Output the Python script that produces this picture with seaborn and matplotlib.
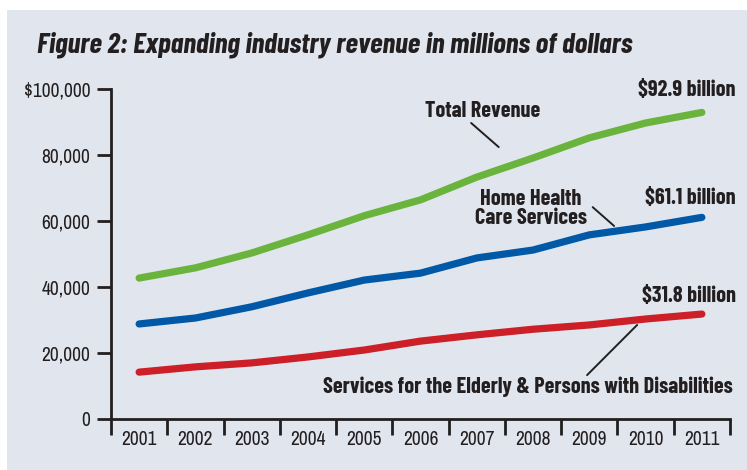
import matplotlib
matplotlib.use("Agg")
import matplotlib.pyplot as plt
import matplotlib.patches as patches
import pandas as pd
import seaborn as sns

years = [2001, 2002, 2003, 2004, 2005, 2006, 2007, 2008, 2009, 2010, 2011]
total_revenue = [42.7, 45.8, 50.3, 55.8, 61.6, 66.4, 73.3, 79.1, 85.2, 89.7, 92.9]
home_health = [28.8, 30.6, 34.0, 38.2, 42.1, 44.2, 48.8, 51.2, 55.8, 58.2, 61.1]
elderly = [14.2, 15.8, 17.0, 18.8, 20.9, 23.6, 25.5, 27.2, 28.5, 30.3, 31.8]

series_names = ["Total Revenue", "Home Health Care Services",
                "Services for the Elderly & Persons with Disabilities"]
colors = ["#6ab43e", "#0058a6", "#cd1f28"]

df = pd.DataFrame({
    "year": years * 3,
    "revenue": [v * 1000 for v in total_revenue + home_health + elderly],
    "series": [s for s in series_names for _ in years],
})

bg = "#e1e6ee"
ink = "#231f20"

sns.set_style("ticks")
plt.rcParams["font.family"] = ["Archivo Narrow", "Barlow Condensed", "DejaVu Sans"]
bold_family = ["Barlow Condensed", "DejaVu Sans"]

fig = plt.figure(figsize=(7.47, 4.70), dpi=100, facecolor="white")
fig.patches.append(patches.Rectangle((7 / 747, 0), 1, 1 - 10 / 470, transform=fig.transFigure,
                                     facecolor=bg, edgecolor="none", zorder=-10))
ax = fig.add_axes([111 / 747, 1 - 419 / 470, 619 / 747, 330 / 470])
ax.set_facecolor(bg)

sns.lineplot(data=df, x="year", y="revenue", hue="series", palette=colors,
             linewidth=5.2, legend=False, ax=ax, solid_capstyle="round", clip_on=False)

ax.set_xlim(2000.5, 2011.5)
ax.set_ylim(0, 100000)
ax.set_yticks([0, 20000, 40000, 60000, 80000, 100000])
ax.set_yticklabels(["0", "20,000", "40,000", "60,000", "80,000", "$100,000"])
ax.set_xticks(years)
ax.set_xticklabels([str(y) for y in years])
ax.set_xticks([y - 0.5 for y in years] + [2011.5], minor=True)
ax.tick_params(axis="x", which="major", length=0, pad=8, labelsize=14, colors=ink)
ax.tick_params(axis="x", which="minor", length=11.5, width=2, direction="out", color=ink)
ax.tick_params(axis="y", length=10, width=2, direction="out", color=ink, labelsize=14,
               labelcolor=ink, pad=5)
ax.set_xlabel("")
ax.set_ylabel("")
for s in ["top", "right"]:
    ax.spines[s].set_visible(False)
for s in ["left", "bottom"]:
    ax.spines[s].set_linewidth(2)
    ax.spines[s].set_color(ink)

fig.text(37 / 747, 1 - 45 / 470, "Figure 2: Expanding industry revenue in millions of dollars",
         fontsize=21, fontweight="bold", fontstyle="italic", color=ink, va="center", ha="left",
         family=bold_family)

bold = dict(fontsize=16, fontweight="bold", color=ink, family=bold_family)
ax.text(2011.6, 99700, "$92.9 billion", ha="right", va="center", **bold)
ax.text(2011.6, 67000, "$61.1 billion", ha="right", va="center", **bold)
ax.text(2011.6, 37300, "$31.8 billion", ha="right", va="center", **bold)
ax.text(2006.08, 93300, "Total Revenue", ha="left", va="center", **bold)
ax.text(2007.96, 63900, "Home Health\nCare Services", ha="center", va="center",
        linespacing=0.95, **bold)
ax.text(2011.55, 9700, "Services for the Elderly & Persons with Disabilities", ha="right",
        va="center", **bold)

ax.plot([2006.9, 2007.39], [89700, 82400], color=ink, lw=1.4)
ax.plot([2009.06, 2009.44], [64200, 58500], color=ink, lw=1.4)
ax.plot([2008.96, 2009.85], [13300, 28500], color=ink, lw=1.4)

fig.savefig("out.png", dpi=100, facecolor=fig.get_facecolor())
